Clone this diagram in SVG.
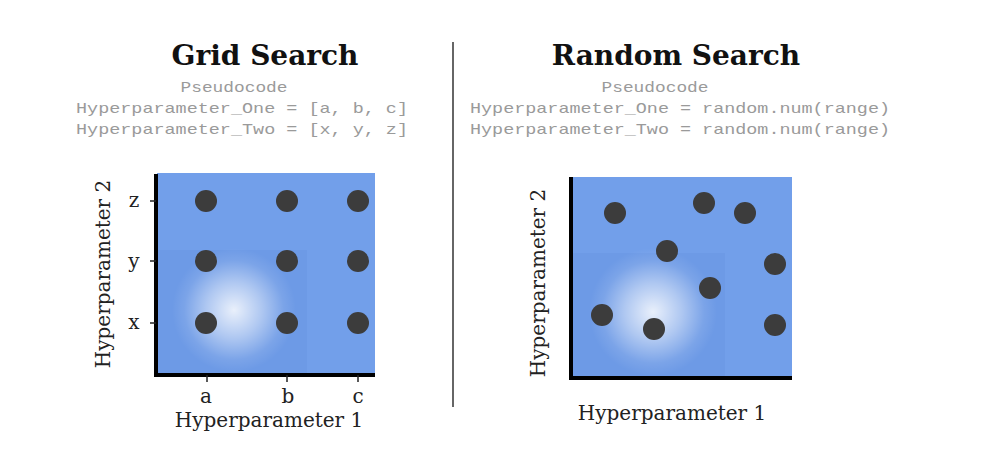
<svg xmlns="http://www.w3.org/2000/svg" width="985" height="462" viewBox="0 0 985 462">
<style>
.title{font-family:"DejaVu Serif",serif;font-weight:bold;font-size:28px;fill:#111;text-anchor:middle}
.code{font-family:"Liberation Mono",monospace;font-size:15px;fill:#9a9a9a}
.lbl{font-family:"DejaVu Serif",serif;font-size:20px;fill:#222;text-anchor:middle}
.axis{fill:none;stroke:#000;stroke-width:4}
.tick{stroke:#222;stroke-width:1.5}
.dot{fill:#3c3c3c}
.bg{fill:#6d9ae6}
.bg2{fill:#729fea}
</style>
<defs>
<radialGradient id="glow">
<stop offset="0" stop-color="#ffffff" stop-opacity="0.85"/>
<stop offset="0.45" stop-color="#ffffff" stop-opacity="0.45"/>
<stop offset="0.8" stop-color="#ffffff" stop-opacity="0.1"/>
<stop offset="1" stop-color="#ffffff" stop-opacity="0"/>
</radialGradient>
</defs>
<rect width="985" height="462" fill="#ffffff"/>

<g id="grid-header">
<text class="title" x="265" y="65">Grid Search</text>
<text class="code" x="234" y="92" text-anchor="middle" textLength="107" lengthAdjust="spacingAndGlyphs">Pseudocode</text>
<text class="code" x="76" y="113" textLength="332" lengthAdjust="spacingAndGlyphs">Hyperparameter_One = [a, b, c]</text>
<text class="code" x="76" y="134" textLength="332" lengthAdjust="spacingAndGlyphs">Hyperparameter_Two = [x, y, z]</text>
</g>

<g id="random-header">
<text class="title" x="676" y="65">Random Search</text>
<text class="code" x="655" y="92" text-anchor="middle" textLength="107" lengthAdjust="spacingAndGlyphs">Pseudocode</text>
<text class="code" x="470" y="113" textLength="420" lengthAdjust="spacingAndGlyphs">Hyperparameter_One = random.num(range)</text>
<text class="code" x="470" y="134" textLength="420" lengthAdjust="spacingAndGlyphs">Hyperparameter_Two = random.num(range)</text>
</g>

<line id="divider" x1="453" y1="42" x2="453" y2="407" stroke="#333" stroke-width="1.5"/>

<g id="grid-plot">
<rect class="bg2" x="157" y="173" width="218" height="201"/>
<rect class="bg" x="157" y="250" width="150" height="124"/>
<circle cx="234" cy="310" r="62" fill="url(#glow)"/>
<path class="axis" d="M156,174 V375 H375"/>
<line class="tick" x1="150" y1="201" x2="156" y2="201"/>
<line class="tick" x1="150" y1="261" x2="156" y2="261"/>
<line class="tick" x1="150" y1="323" x2="156" y2="323"/>
<line class="tick" x1="207" y1="375" x2="207" y2="382"/>
<line class="tick" x1="287" y1="375" x2="287" y2="382"/>
<line class="tick" x1="358" y1="375" x2="358" y2="382"/>
<circle class="dot" cx="206" cy="201" r="11"/>
<circle class="dot" cx="287" cy="201" r="11"/>
<circle class="dot" cx="358" cy="201" r="11"/>
<circle class="dot" cx="206" cy="261" r="11"/>
<circle class="dot" cx="287" cy="261" r="11"/>
<circle class="dot" cx="358" cy="261" r="11"/>
<circle class="dot" cx="206" cy="323" r="11"/>
<circle class="dot" cx="287" cy="323" r="11"/>
<circle class="dot" cx="358" cy="323" r="11"/>
<text class="lbl" x="134" y="207">z</text>
<text class="lbl" x="134" y="268">y</text>
<text class="lbl" x="134" y="329">x</text>
<text class="lbl" x="206" y="403">a</text>
<text class="lbl" x="288" y="403">b</text>
<text class="lbl" x="358" y="403">c</text>
<text class="lbl" x="269" y="427">Hyperparameter 1</text>
<text class="lbl" transform="translate(110,274) rotate(-90)">Hyperparameter 2</text>
</g>

<g id="random-plot">
<rect class="bg2" x="573" y="177" width="219" height="200"/>
<rect class="bg" x="573" y="253" width="152" height="124"/>
<circle cx="653" cy="312" r="64" fill="url(#glow)"/>
<path class="axis" d="M571,177 V378 H792"/>
<circle class="dot" cx="615" cy="213" r="11"/>
<circle class="dot" cx="704" cy="203" r="11"/>
<circle class="dot" cx="745" cy="213" r="11"/>
<circle class="dot" cx="667" cy="251" r="11"/>
<circle class="dot" cx="775" cy="264" r="11"/>
<circle class="dot" cx="710" cy="288" r="11"/>
<circle class="dot" cx="602" cy="315" r="11"/>
<circle class="dot" cx="654" cy="329" r="11"/>
<circle class="dot" cx="775" cy="325" r="11"/>
<text class="lbl" x="672" y="420">Hyperparameter 1</text>
<text class="lbl" transform="translate(545,283) rotate(-90)">Hyperparameter 2</text>
</g>
</svg>
